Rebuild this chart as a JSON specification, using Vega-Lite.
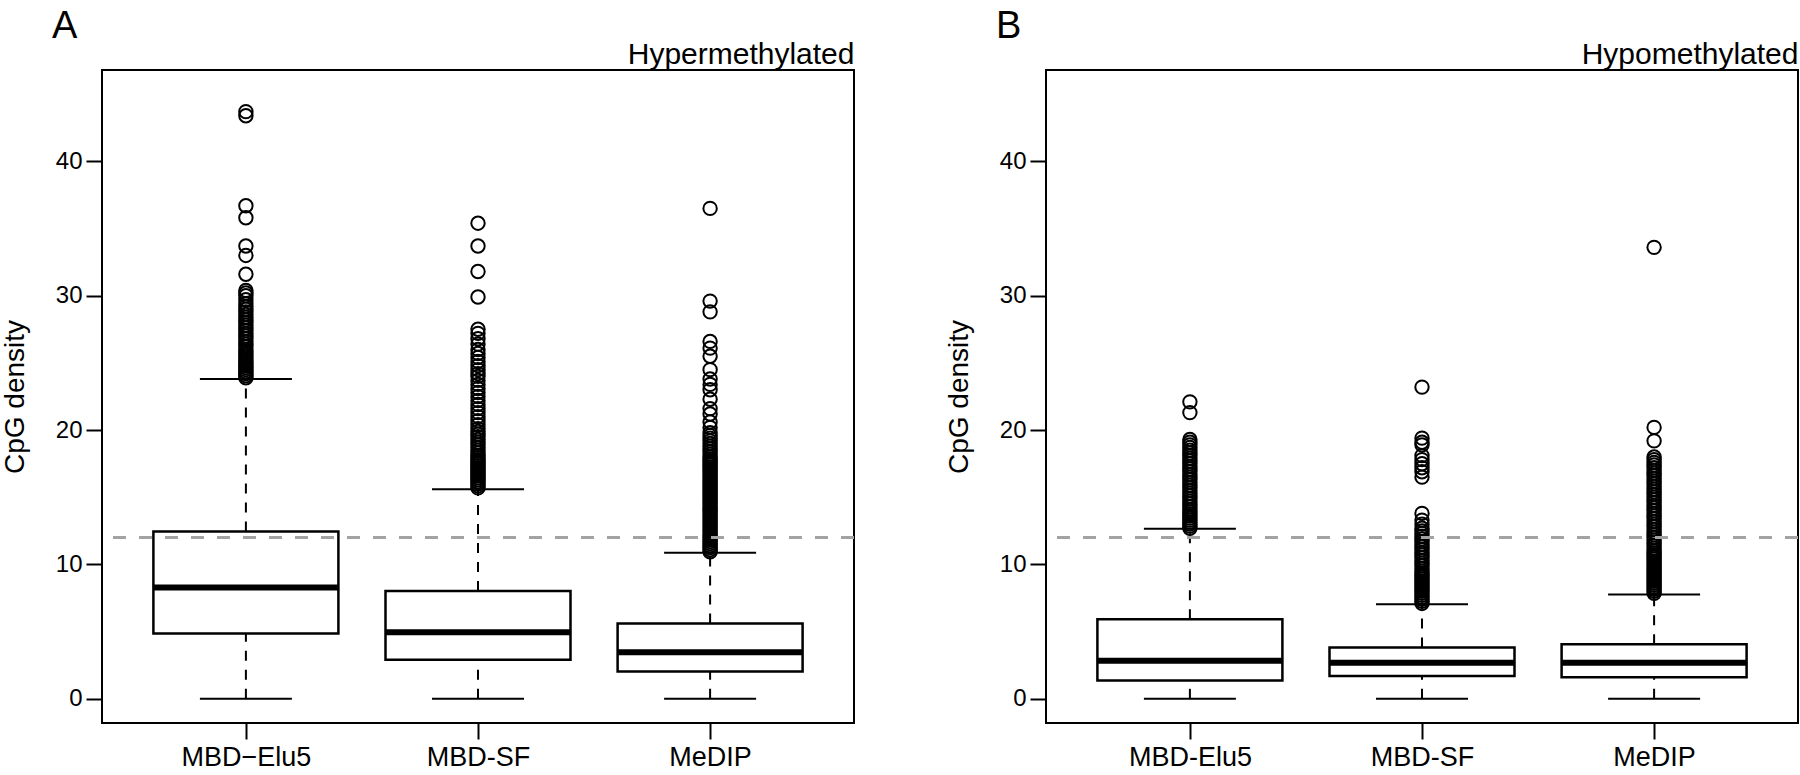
{
  "$schema": "https://vega.github.io/schema/vega-lite/v6.json",
  "padding": {"left": 0, "top": 7, "right": 0, "bottom": 0},
  "spacing": 87,
  "config": {
    "font": "Liberation Sans",
    "view": {"stroke": "black", "strokeWidth": 2},
    "axis": {"grid": false},
    "axisY": {"domain": false, "tickSize": 16, "tickWidth": 2, "tickColor": "black", "labelFontSize": 24, "labelColor": "black", "labelPadding": 4, "titleFontSize": 28, "titleFontWeight": "normal", "titleColor": "black", "titlePadding": 26, "tickCount": 5}
  },
  "datasets": {
    "statsA": [
      {"method": "MBD−Elu5", "lower": 0, "q1": 4.86, "median": 8.28, "q3": 12.45, "upper": 23.8},
      {"method": "MBD-SF", "lower": 0, "q1": 2.9, "median": 4.95, "q3": 8.02, "upper": 15.6},
      {"method": "MeDIP", "lower": 0, "q1": 2.03, "median": 3.47, "q3": 5.6, "upper": 10.87}
    ],
    "statsB": [
      {"method": "MBD-Elu5", "lower": 0, "q1": 1.37, "median": 2.84, "q3": 5.93, "upper": 12.65},
      {"method": "MBD-SF", "lower": 0, "q1": 1.7, "median": 2.69, "q3": 3.82, "upper": 7.03},
      {"method": "MeDIP", "lower": 0, "q1": 1.6, "median": 2.69, "q3": 4.06, "upper": 7.76}
    ],
    "outA": [
      {"method": "MBD−Elu5", "value": 23.9}, {"method": "MBD−Elu5", "value": 24.05}, {"method": "MBD−Elu5", "value": 24.2}, {"method": "MBD−Elu5", "value": 24.35}, {"method": "MBD−Elu5", "value": 24.5}, {"method": "MBD−Elu5", "value": 24.65}, {"method": "MBD−Elu5", "value": 24.8}, {"method": "MBD−Elu5", "value": 24.95}, {"method": "MBD−Elu5", "value": 25.1}, {"method": "MBD−Elu5", "value": 25.25}, {"method": "MBD−Elu5", "value": 25.4}, {"method": "MBD−Elu5", "value": 25.55}, {"method": "MBD−Elu5", "value": 25.7}, {"method": "MBD−Elu5", "value": 25.85}, {"method": "MBD−Elu5", "value": 26.0}, {"method": "MBD−Elu5", "value": 26.2}, {"method": "MBD−Elu5", "value": 26.4}, {"method": "MBD−Elu5", "value": 26.6}, {"method": "MBD−Elu5", "value": 26.8}, {"method": "MBD−Elu5", "value": 27.0}, {"method": "MBD−Elu5", "value": 27.2}, {"method": "MBD−Elu5", "value": 27.4}, {"method": "MBD−Elu5", "value": 27.6}, {"method": "MBD−Elu5", "value": 27.8}, {"method": "MBD−Elu5", "value": 28.0}, {"method": "MBD−Elu5", "value": 28.2}, {"method": "MBD−Elu5", "value": 28.4}, {"method": "MBD−Elu5", "value": 28.6}, {"method": "MBD−Elu5", "value": 28.8}, {"method": "MBD−Elu5", "value": 29.0}, {"method": "MBD−Elu5", "value": 29.2}, {"method": "MBD−Elu5", "value": 29.4}, {"method": "MBD−Elu5", "value": 29.7}, {"method": "MBD−Elu5", "value": 30.0}, {"method": "MBD−Elu5", "value": 30.2}, {"method": "MBD−Elu5", "value": 30.4}, {"method": "MBD−Elu5", "value": 31.6}, {"method": "MBD−Elu5", "value": 33.0}, {"method": "MBD−Elu5", "value": 33.7}, {"method": "MBD−Elu5", "value": 35.8}, {"method": "MBD−Elu5", "value": 36.7}, {"method": "MBD−Elu5", "value": 43.4}, {"method": "MBD−Elu5", "value": 43.7},
      {"method": "MBD-SF", "value": 15.7}, {"method": "MBD-SF", "value": 15.85}, {"method": "MBD-SF", "value": 16.0}, {"method": "MBD-SF", "value": 16.15}, {"method": "MBD-SF", "value": 16.3}, {"method": "MBD-SF", "value": 16.45}, {"method": "MBD-SF", "value": 16.6}, {"method": "MBD-SF", "value": 16.75}, {"method": "MBD-SF", "value": 16.9}, {"method": "MBD-SF", "value": 17.05}, {"method": "MBD-SF", "value": 17.2}, {"method": "MBD-SF", "value": 17.35}, {"method": "MBD-SF", "value": 17.5}, {"method": "MBD-SF", "value": 17.65}, {"method": "MBD-SF", "value": 17.8}, {"method": "MBD-SF", "value": 17.95}, {"method": "MBD-SF", "value": 18.1}, {"method": "MBD-SF", "value": 18.3}, {"method": "MBD-SF", "value": 18.5}, {"method": "MBD-SF", "value": 18.7}, {"method": "MBD-SF", "value": 18.9}, {"method": "MBD-SF", "value": 19.1}, {"method": "MBD-SF", "value": 19.3}, {"method": "MBD-SF", "value": 19.5}, {"method": "MBD-SF", "value": 19.7}, {"method": "MBD-SF", "value": 19.9}, {"method": "MBD-SF", "value": 20.1}, {"method": "MBD-SF", "value": 20.4}, {"method": "MBD-SF", "value": 20.7}, {"method": "MBD-SF", "value": 21.0}, {"method": "MBD-SF", "value": 21.3}, {"method": "MBD-SF", "value": 21.6}, {"method": "MBD-SF", "value": 21.9}, {"method": "MBD-SF", "value": 22.2}, {"method": "MBD-SF", "value": 22.5}, {"method": "MBD-SF", "value": 22.8}, {"method": "MBD-SF", "value": 23.1}, {"method": "MBD-SF", "value": 23.4}, {"method": "MBD-SF", "value": 23.7}, {"method": "MBD-SF", "value": 24.0}, {"method": "MBD-SF", "value": 24.2}, {"method": "MBD-SF", "value": 24.5}, {"method": "MBD-SF", "value": 24.8}, {"method": "MBD-SF", "value": 25.1}, {"method": "MBD-SF", "value": 25.4}, {"method": "MBD-SF", "value": 25.7}, {"method": "MBD-SF", "value": 26.0}, {"method": "MBD-SF", "value": 26.4}, {"method": "MBD-SF", "value": 26.8}, {"method": "MBD-SF", "value": 27.2}, {"method": "MBD-SF", "value": 27.5}, {"method": "MBD-SF", "value": 29.9}, {"method": "MBD-SF", "value": 31.8}, {"method": "MBD-SF", "value": 33.7}, {"method": "MBD-SF", "value": 35.4},
      {"method": "MeDIP", "value": 10.95}, {"method": "MeDIP", "value": 11.1}, {"method": "MeDIP", "value": 11.25}, {"method": "MeDIP", "value": 11.4}, {"method": "MeDIP", "value": 11.55}, {"method": "MeDIP", "value": 11.7}, {"method": "MeDIP", "value": 11.85}, {"method": "MeDIP", "value": 12.0}, {"method": "MeDIP", "value": 12.15}, {"method": "MeDIP", "value": 12.3}, {"method": "MeDIP", "value": 12.45}, {"method": "MeDIP", "value": 12.6}, {"method": "MeDIP", "value": 12.75}, {"method": "MeDIP", "value": 12.9}, {"method": "MeDIP", "value": 13.05}, {"method": "MeDIP", "value": 13.2}, {"method": "MeDIP", "value": 13.35}, {"method": "MeDIP", "value": 13.5}, {"method": "MeDIP", "value": 13.65}, {"method": "MeDIP", "value": 13.8}, {"method": "MeDIP", "value": 13.95}, {"method": "MeDIP", "value": 14.1}, {"method": "MeDIP", "value": 14.25}, {"method": "MeDIP", "value": 14.4}, {"method": "MeDIP", "value": 14.55}, {"method": "MeDIP", "value": 14.7}, {"method": "MeDIP", "value": 14.85}, {"method": "MeDIP", "value": 15.0}, {"method": "MeDIP", "value": 15.15}, {"method": "MeDIP", "value": 15.3}, {"method": "MeDIP", "value": 15.45}, {"method": "MeDIP", "value": 15.6}, {"method": "MeDIP", "value": 15.75}, {"method": "MeDIP", "value": 15.9}, {"method": "MeDIP", "value": 16.05}, {"method": "MeDIP", "value": 16.2}, {"method": "MeDIP", "value": 16.35}, {"method": "MeDIP", "value": 16.5}, {"method": "MeDIP", "value": 16.65}, {"method": "MeDIP", "value": 16.8}, {"method": "MeDIP", "value": 16.95}, {"method": "MeDIP", "value": 17.1}, {"method": "MeDIP", "value": 17.25}, {"method": "MeDIP", "value": 17.4}, {"method": "MeDIP", "value": 17.55}, {"method": "MeDIP", "value": 17.7}, {"method": "MeDIP", "value": 17.85}, {"method": "MeDIP", "value": 18.0}, {"method": "MeDIP", "value": 18.2}, {"method": "MeDIP", "value": 18.4}, {"method": "MeDIP", "value": 18.6}, {"method": "MeDIP", "value": 18.8}, {"method": "MeDIP", "value": 19.0}, {"method": "MeDIP", "value": 19.2}, {"method": "MeDIP", "value": 19.4}, {"method": "MeDIP", "value": 19.6}, {"method": "MeDIP", "value": 19.8}, {"method": "MeDIP", "value": 20.2}, {"method": "MeDIP", "value": 20.6}, {"method": "MeDIP", "value": 21.2}, {"method": "MeDIP", "value": 21.6}, {"method": "MeDIP", "value": 22.3}, {"method": "MeDIP", "value": 23.0}, {"method": "MeDIP", "value": 23.4}, {"method": "MeDIP", "value": 23.8}, {"method": "MeDIP", "value": 24.5}, {"method": "MeDIP", "value": 25.5}, {"method": "MeDIP", "value": 26.1}, {"method": "MeDIP", "value": 26.6}, {"method": "MeDIP", "value": 28.8}, {"method": "MeDIP", "value": 29.6}, {"method": "MeDIP", "value": 36.5}
    ],
    "outB": [
      {"method": "MBD-Elu5", "value": 12.7}, {"method": "MBD-Elu5", "value": 12.85}, {"method": "MBD-Elu5", "value": 13.0}, {"method": "MBD-Elu5", "value": 13.15}, {"method": "MBD-Elu5", "value": 13.3}, {"method": "MBD-Elu5", "value": 13.45}, {"method": "MBD-Elu5", "value": 13.6}, {"method": "MBD-Elu5", "value": 13.75}, {"method": "MBD-Elu5", "value": 13.9}, {"method": "MBD-Elu5", "value": 14.1}, {"method": "MBD-Elu5", "value": 14.3}, {"method": "MBD-Elu5", "value": 14.5}, {"method": "MBD-Elu5", "value": 14.7}, {"method": "MBD-Elu5", "value": 14.9}, {"method": "MBD-Elu5", "value": 15.1}, {"method": "MBD-Elu5", "value": 15.3}, {"method": "MBD-Elu5", "value": 15.5}, {"method": "MBD-Elu5", "value": 15.7}, {"method": "MBD-Elu5", "value": 15.9}, {"method": "MBD-Elu5", "value": 16.1}, {"method": "MBD-Elu5", "value": 16.3}, {"method": "MBD-Elu5", "value": 16.5}, {"method": "MBD-Elu5", "value": 16.7}, {"method": "MBD-Elu5", "value": 16.9}, {"method": "MBD-Elu5", "value": 17.1}, {"method": "MBD-Elu5", "value": 17.3}, {"method": "MBD-Elu5", "value": 17.5}, {"method": "MBD-Elu5", "value": 17.7}, {"method": "MBD-Elu5", "value": 17.9}, {"method": "MBD-Elu5", "value": 18.1}, {"method": "MBD-Elu5", "value": 18.3}, {"method": "MBD-Elu5", "value": 18.5}, {"method": "MBD-Elu5", "value": 18.7}, {"method": "MBD-Elu5", "value": 18.9}, {"method": "MBD-Elu5", "value": 19.1}, {"method": "MBD-Elu5", "value": 19.3}, {"method": "MBD-Elu5", "value": 21.3}, {"method": "MBD-Elu5", "value": 22.1},
      {"method": "MBD-SF", "value": 7.1}, {"method": "MBD-SF", "value": 7.25}, {"method": "MBD-SF", "value": 7.4}, {"method": "MBD-SF", "value": 7.55}, {"method": "MBD-SF", "value": 7.7}, {"method": "MBD-SF", "value": 7.85}, {"method": "MBD-SF", "value": 8.0}, {"method": "MBD-SF", "value": 8.15}, {"method": "MBD-SF", "value": 8.3}, {"method": "MBD-SF", "value": 8.45}, {"method": "MBD-SF", "value": 8.6}, {"method": "MBD-SF", "value": 8.75}, {"method": "MBD-SF", "value": 8.9}, {"method": "MBD-SF", "value": 9.05}, {"method": "MBD-SF", "value": 9.2}, {"method": "MBD-SF", "value": 9.35}, {"method": "MBD-SF", "value": 9.5}, {"method": "MBD-SF", "value": 9.7}, {"method": "MBD-SF", "value": 9.9}, {"method": "MBD-SF", "value": 10.1}, {"method": "MBD-SF", "value": 10.3}, {"method": "MBD-SF", "value": 10.5}, {"method": "MBD-SF", "value": 10.7}, {"method": "MBD-SF", "value": 10.9}, {"method": "MBD-SF", "value": 11.1}, {"method": "MBD-SF", "value": 11.3}, {"method": "MBD-SF", "value": 11.5}, {"method": "MBD-SF", "value": 11.7}, {"method": "MBD-SF", "value": 11.9}, {"method": "MBD-SF", "value": 12.1}, {"method": "MBD-SF", "value": 12.3}, {"method": "MBD-SF", "value": 12.5}, {"method": "MBD-SF", "value": 12.7}, {"method": "MBD-SF", "value": 13.0}, {"method": "MBD-SF", "value": 13.3}, {"method": "MBD-SF", "value": 13.8}, {"method": "MBD-SF", "value": 16.5}, {"method": "MBD-SF", "value": 16.9}, {"method": "MBD-SF", "value": 17.2}, {"method": "MBD-SF", "value": 17.5}, {"method": "MBD-SF", "value": 17.8}, {"method": "MBD-SF", "value": 18.1}, {"method": "MBD-SF", "value": 18.9}, {"method": "MBD-SF", "value": 19.1}, {"method": "MBD-SF", "value": 19.4}, {"method": "MBD-SF", "value": 23.2},
      {"method": "MeDIP", "value": 7.85}, {"method": "MeDIP", "value": 8.0}, {"method": "MeDIP", "value": 8.15}, {"method": "MeDIP", "value": 8.3}, {"method": "MeDIP", "value": 8.45}, {"method": "MeDIP", "value": 8.6}, {"method": "MeDIP", "value": 8.75}, {"method": "MeDIP", "value": 8.9}, {"method": "MeDIP", "value": 9.05}, {"method": "MeDIP", "value": 9.2}, {"method": "MeDIP", "value": 9.35}, {"method": "MeDIP", "value": 9.5}, {"method": "MeDIP", "value": 9.65}, {"method": "MeDIP", "value": 9.8}, {"method": "MeDIP", "value": 9.95}, {"method": "MeDIP", "value": 10.1}, {"method": "MeDIP", "value": 10.25}, {"method": "MeDIP", "value": 10.4}, {"method": "MeDIP", "value": 10.55}, {"method": "MeDIP", "value": 10.7}, {"method": "MeDIP", "value": 10.85}, {"method": "MeDIP", "value": 11.0}, {"method": "MeDIP", "value": 11.2}, {"method": "MeDIP", "value": 11.4}, {"method": "MeDIP", "value": 11.6}, {"method": "MeDIP", "value": 11.8}, {"method": "MeDIP", "value": 12.0}, {"method": "MeDIP", "value": 12.2}, {"method": "MeDIP", "value": 12.4}, {"method": "MeDIP", "value": 12.6}, {"method": "MeDIP", "value": 12.8}, {"method": "MeDIP", "value": 13.0}, {"method": "MeDIP", "value": 13.2}, {"method": "MeDIP", "value": 13.4}, {"method": "MeDIP", "value": 13.6}, {"method": "MeDIP", "value": 13.8}, {"method": "MeDIP", "value": 14.0}, {"method": "MeDIP", "value": 14.2}, {"method": "MeDIP", "value": 14.4}, {"method": "MeDIP", "value": 14.6}, {"method": "MeDIP", "value": 14.8}, {"method": "MeDIP", "value": 15.0}, {"method": "MeDIP", "value": 15.2}, {"method": "MeDIP", "value": 15.4}, {"method": "MeDIP", "value": 15.6}, {"method": "MeDIP", "value": 15.8}, {"method": "MeDIP", "value": 16.0}, {"method": "MeDIP", "value": 16.2}, {"method": "MeDIP", "value": 16.4}, {"method": "MeDIP", "value": 16.6}, {"method": "MeDIP", "value": 16.8}, {"method": "MeDIP", "value": 17.0}, {"method": "MeDIP", "value": 17.2}, {"method": "MeDIP", "value": 17.4}, {"method": "MeDIP", "value": 17.6}, {"method": "MeDIP", "value": 17.8}, {"method": "MeDIP", "value": 18.0}, {"method": "MeDIP", "value": 19.2}, {"method": "MeDIP", "value": 20.2}, {"method": "MeDIP", "value": 33.6}
    ]
  },
  "hconcat": [
    {
      "width": 752,
      "height": 653,
      "title": {"text": "A", "anchor": "start", "frame": "group", "fontSize": 38, "fontWeight": "normal", "color": "black", "dx": -50, "offset": -7},
      "data": {"name": "statsA"},
      "layer": [
        {
          "mark": {"type": "rule", "color": "black", "strokeWidth": 2, "strokeDash": [10, 9]},
          "encoding": {
            "x": {"field": "method", "type": "nominal", "sort": null, "scale": {"type": "point", "domain": ["MBD−Elu5", "MBD-SF", "MeDIP"], "padding": 0.62},
                  "axis": {"orient": "bottom", "title": null, "domain": false, "labelAngle": 0, "tickSize": 16, "tickWidth": 2, "tickColor": "black", "labelFontSize": 27, "labelColor": "black", "labelPadding": 5}},
            "y": {"field": "lower", "type": "quantitative", "title": "CpG density", "scale": {"domain": [-1.8, 46.8], "nice": false, "zero": false}},
            "y2": {"field": "q1"}
          }
        },
        {
          "mark": {"type": "rule", "color": "black", "strokeWidth": 2, "strokeDash": [10, 9]},
          "encoding": {
            "x": {"field": "method", "type": "nominal", "sort": null, "axis": null},
            "y": {"field": "q3", "type": "quantitative", "title": "CpG density"},
            "y2": {"field": "upper"}
          }
        },
        {
          "mark": {"type": "bar", "width": 185, "fill": "white", "stroke": "black", "strokeWidth": 2.5},
          "encoding": {
            "x": {"field": "method", "type": "nominal", "sort": null, "axis": null},
            "y": {"field": "q1", "type": "quantitative", "title": "CpG density"},
            "y2": {"field": "q3"}
          }
        },
        {
          "mark": {"type": "tick", "size": 185, "thickness": 6, "color": "black", "opacity": 1},
          "encoding": {
            "x": {"field": "method", "type": "nominal", "sort": null, "axis": null},
            "y": {"field": "median", "type": "quantitative", "title": "CpG density"}
          }
        },
        {
          "mark": {"type": "tick", "size": 92, "thickness": 2, "color": "black", "opacity": 1},
          "encoding": {
            "x": {"field": "method", "type": "nominal", "sort": null, "axis": null},
            "y": {"field": "lower", "type": "quantitative", "title": "CpG density"}
          }
        },
        {
          "mark": {"type": "tick", "size": 92, "thickness": 2, "color": "black", "opacity": 1},
          "encoding": {
            "x": {"field": "method", "type": "nominal", "sort": null,
                  "axis": {"orient": "top", "title": "Hypermethylated", "titleAnchor": "end", "titleAlign": "right", "titleFontSize": 30, "titleFontWeight": "normal", "titleColor": "black", "titlePadding": 1, "domain": false, "ticks": false, "labels": false}},
            "y": {"field": "upper", "type": "quantitative", "title": "CpG density"}
          }
        },
        {
          "data": {"name": "outA"},
          "mark": {"type": "point", "shape": "circle", "filled": false, "stroke": "black", "strokeWidth": 2, "size": 180, "opacity": 1},
          "encoding": {
            "x": {"field": "method", "type": "nominal", "sort": null, "axis": null},
            "y": {"field": "value", "type": "quantitative", "title": "CpG density"}
          }
        },
        {
          "mark": {"type": "rule", "color": "#a3a3a3", "strokeWidth": 3, "strokeDash": [13, 13]},
          "encoding": {"y": {"datum": 12, "type": "quantitative", "title": "CpG density"}}
        }
      ]
    },
    {
      "width": 752,
      "height": 653,
      "title": {"text": "B", "anchor": "start", "frame": "group", "fontSize": 38, "fontWeight": "normal", "color": "black", "dx": -50, "offset": -7},
      "data": {"name": "statsB"},
      "layer": [
        {
          "mark": {"type": "rule", "color": "black", "strokeWidth": 2, "strokeDash": [10, 9]},
          "encoding": {
            "x": {"field": "method", "type": "nominal", "sort": null, "scale": {"type": "point", "domain": ["MBD-Elu5", "MBD-SF", "MeDIP"], "padding": 0.62},
                  "axis": {"orient": "bottom", "title": null, "domain": false, "labelAngle": 0, "tickSize": 16, "tickWidth": 2, "tickColor": "black", "labelFontSize": 27, "labelColor": "black", "labelPadding": 5}},
            "y": {"field": "lower", "type": "quantitative", "title": "CpG density", "scale": {"domain": [-1.8, 46.8], "nice": false, "zero": false}},
            "y2": {"field": "q1"}
          }
        },
        {
          "mark": {"type": "rule", "color": "black", "strokeWidth": 2, "strokeDash": [10, 9]},
          "encoding": {
            "x": {"field": "method", "type": "nominal", "sort": null, "axis": null},
            "y": {"field": "q3", "type": "quantitative", "title": "CpG density"},
            "y2": {"field": "upper"}
          }
        },
        {
          "mark": {"type": "bar", "width": 185, "fill": "white", "stroke": "black", "strokeWidth": 2.5},
          "encoding": {
            "x": {"field": "method", "type": "nominal", "sort": null, "axis": null},
            "y": {"field": "q1", "type": "quantitative", "title": "CpG density"},
            "y2": {"field": "q3"}
          }
        },
        {
          "mark": {"type": "tick", "size": 185, "thickness": 6, "color": "black", "opacity": 1},
          "encoding": {
            "x": {"field": "method", "type": "nominal", "sort": null, "axis": null},
            "y": {"field": "median", "type": "quantitative", "title": "CpG density"}
          }
        },
        {
          "mark": {"type": "tick", "size": 92, "thickness": 2, "color": "black", "opacity": 1},
          "encoding": {
            "x": {"field": "method", "type": "nominal", "sort": null, "axis": null},
            "y": {"field": "lower", "type": "quantitative", "title": "CpG density"}
          }
        },
        {
          "mark": {"type": "tick", "size": 92, "thickness": 2, "color": "black", "opacity": 1},
          "encoding": {
            "x": {"field": "method", "type": "nominal", "sort": null,
                  "axis": {"orient": "top", "title": "Hypomethylated", "titleAnchor": "end", "titleAlign": "right", "titleFontSize": 30, "titleFontWeight": "normal", "titleColor": "black", "titlePadding": 1, "domain": false, "ticks": false, "labels": false}},
            "y": {"field": "upper", "type": "quantitative", "title": "CpG density"}
          }
        },
        {
          "data": {"name": "outB"},
          "mark": {"type": "point", "shape": "circle", "filled": false, "stroke": "black", "strokeWidth": 2, "size": 180, "opacity": 1},
          "encoding": {
            "x": {"field": "method", "type": "nominal", "sort": null, "axis": null},
            "y": {"field": "value", "type": "quantitative", "title": "CpG density"}
          }
        },
        {
          "mark": {"type": "rule", "color": "#a3a3a3", "strokeWidth": 3, "strokeDash": [13, 13]},
          "encoding": {"y": {"datum": 12, "type": "quantitative", "title": "CpG density"}}
        }
      ]
    }
  ]
}
